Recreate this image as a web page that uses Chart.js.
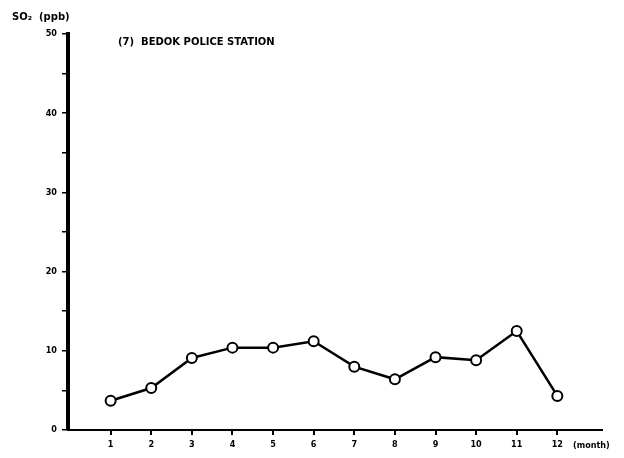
<!DOCTYPE html>
<html>
<head>
<meta charset="utf-8">
<script src="https://cdn.jsdelivr.net/npm/chart.js@4.4.0/dist/chart.umd.min.js"></script>
<style>
  html, body { margin: 0; padding: 0; background: #fff; }
  #wrap { width: 624px; height: 458px; position: relative; }
</style>
</head>
<body>
<div id="wrap"><canvas id="so2Chart" width="624" height="458"></canvas></div>
<script>
// monthly SO2 readings, Bedok Police Station
const months = [1, 2, 3, 4, 5, 6, 7, 8, 9, 10, 11, 12];
const so2Values = [3.7, 5.3, 9.1, 10.4, 10.4, 11.2, 8.0, 6.4, 9.2, 8.8, 12.5, 4.3];
const yTickLabels = [0, 10, 20, 30, 40, 50];

const stationTitle = '(7)  BEDOK POLICE STATION';
const yAxisTitle = 'SO\u2082  (ppb)';
const xAxisTitle = '(month)';

const labelFont = 'bold 9px "DejaVu Sans Condensed", "DejaVu Sans", sans-serif';

// draw the free-standing texts relative to the chart area
const textPlugin = {
    id: 'extraText',
    afterDraw(chart) {
        const ctx = chart.ctx;
        const area = chart.chartArea;
        ctx.save();
        ctx.fillStyle = '#000';
        ctx.textBaseline = 'middle';
        ctx.textAlign = 'left';
        ctx.font = 'bold 10px "DejaVu Sans", sans-serif';
        ctx.fillText(yAxisTitle, 12, 17);
        ctx.fillText(stationTitle, 118, 42);
        ctx.font = labelFont;
        ctx.fillText(xAxisTitle, 573, area.bottom + 16);
        ctx.restore();
    }
};

const ctx = document.getElementById('so2Chart').getContext('2d');
const chart = new Chart(ctx, {
    type: 'line',
    data: {
        datasets: [{
            label: 'SO2',
            data: months.map((m, i) => ({ x: m, y: so2Values[i] })),
            borderColor: '#000',
            borderWidth: 2.5,
            pointRadius: 5,
            pointBorderWidth: 2,
            pointBackgroundColor: '#fff',
            pointBorderColor: '#000',
            tension: 0,
            fill: false
        }]
    },
    options: {
        responsive: false,
        animation: false,
        layout: { padding: { top: 34, right: 22, left: 0, bottom: 0 } },
        plugins: {
            legend: { display: false },
            tooltip: { enabled: false }
        },
        scales: {
            x: {
                type: 'linear',
                min: -0.05,
                max: 13.1,
                afterFit(scale) { scale.height = 28; },
                afterBuildTicks(scale) {
                    scale.ticks = months.map(m => ({ value: m }));
                },
                border: { display: true, color: '#000', width: 2 },
                grid: {
                    drawOnChartArea: false,
                    drawTicks: true,
                    tickLength: 5,
                    color: '#000',
                    lineWidth: 2
                },
                ticks: {
                    color: '#000',
                    font: { family: '"DejaVu Sans Condensed", "DejaVu Sans", sans-serif', size: 9, weight: 'bold' },
                    padding: 4,
                    maxRotation: 0,
                    autoSkip: false
                }
            },
            y: {
                type: 'linear',
                min: 0,
                max: 50,
                afterFit(scale) { scale.width = 68; },
                border: { display: true, color: '#000', width: 4 },
                grid: {
                    drawOnChartArea: false,
                    drawTicks: true,
                    tickLength: 6,
                    color: '#000',
                    lineWidth: 1.5
                },
                ticks: {
                    stepSize: 5,
                    color: '#000',
                    font: { family: '"DejaVu Sans Condensed", "DejaVu Sans", sans-serif', size: 9, weight: 'bold' },
                    padding: 5,
                    callback: v => yTickLabels.includes(v) ? String(v) : ''
                }
            }
        }
    },
    plugins: [textPlugin]
});
</script>
</body>
</html>
